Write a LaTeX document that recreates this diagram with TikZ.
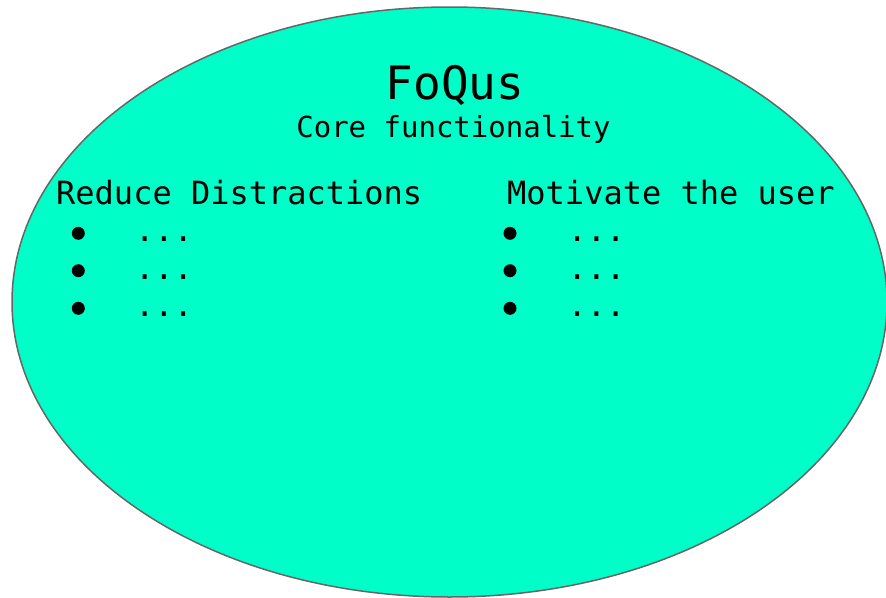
\documentclass[tikz,border=0pt]{standalone}
\usepackage{fontspec}
\usetikzlibrary{shapes.geometric}
\setmonofont{DejaVu Sans Mono}
\definecolor{mintfill}{RGB}{0,255,200}
\definecolor{edgegray}{RGB}{102,102,102}
\tikzset{
  txt/.style={inner sep=0pt, font=\ttfamily},
  bul/.style={circle, fill=black, inner sep=0pt, minimum size=13pt},
}
\begin{document}
\begin{tikzpicture}[x=1pt,y=-1pt]
\useasboundingbox (0,0) rectangle (886,597);
\node[ellipse, draw=edgegray, line width=1.5pt, fill=mintfill, minimum width=875pt, minimum height=590pt, inner sep=0pt] (core) at (449.5,302) {};
\node[txt, anchor=base, font=\ttfamily\fontsize{46}{50}\selectfont] (title) at (455,99.3) {FoQus};
\node[txt, anchor=base, font=\ttfamily\fontsize{29}{33}\selectfont] (sub) at (453.5,137.3) {Core functionality};
\node[txt, anchor=base west, font=\ttfamily\fontsize{32}{36}\selectfont] (h1) at (56,204.3) {Reduce Distractions};
\node[txt, anchor=base west, font=\ttfamily\fontsize{32}{36}\selectfont] (h2) at (507,204.3) {Motivate the user};
\foreach \i/\y in {1/233.3,2/270.7,3/308.3}{
  \node[bul] (la\i) at (78.3,\y) {};
  \node[bul] (ra\i) at (510,\y) {};
  \node[txt, anchor=base west, font=\ttfamily\fontsize{32}{36}\selectfont] (ld\i) at (135,\y+8.5) {...};
  \node[txt, anchor=base west, font=\ttfamily\fontsize{32}{36}\selectfont] (rd\i) at (567.5,\y+8.5) {...};
}
\end{tikzpicture}
\end{document}
